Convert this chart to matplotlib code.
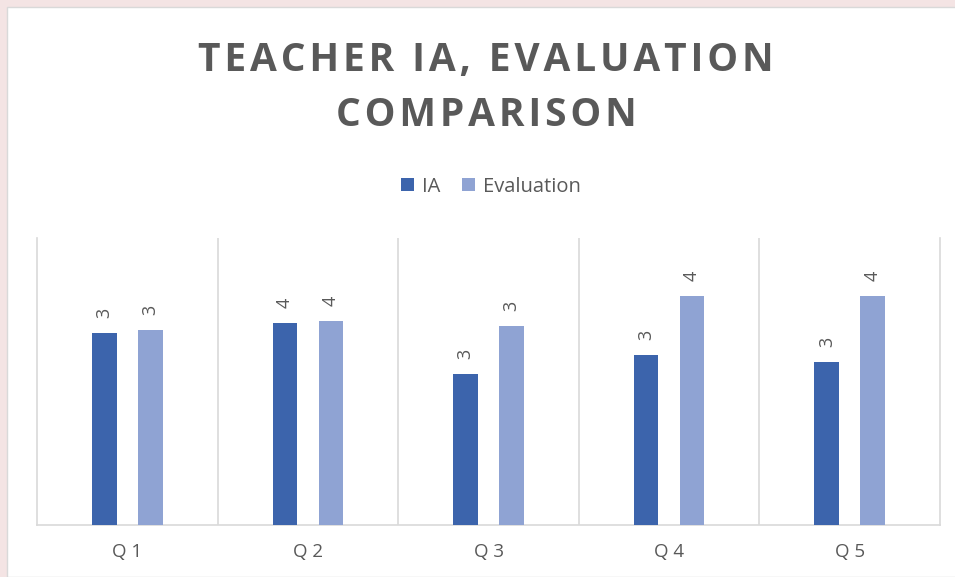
import matplotlib.pyplot as plt
import numpy as np
from matplotlib.patches import Rectangle

# data (labels shown rounded)
questions = ["Q 1", "Q 2", "Q 3", "Q 4", "Q 5"]
ia = [3.34, 3.52, 2.63, 2.96, 2.84]
evaluation = [3.40, 3.55, 3.47, 3.99, 3.99]
title_lines = ["TEACHER IA, EVALUATION", "COMPARISON"]

col_ia = "#3c64ac"
col_ev = "#8fa3d3"
grey = "#595959"
grid = "#d9d9d9"

fig = plt.figure(figsize=(9.55, 5.77), dpi=100)
fig.patch.set_facecolor("#f4e4e4")
# white slide/chart card
fig.patches.append(Rectangle((7 / 955, 0), 1, 1 - 7 / 577, transform=fig.transFigure,
                             facecolor="white", edgecolor=grid, lw=1, zorder=-5))

ax = fig.add_axes([37 / 955, 1 - 525 / 577, (940 - 37) / 955, (525 - 238) / 577])
ax.set_zorder(2)
ax.set_facecolor("none")

x = np.arange(len(questions))
w = 0.136
off = 0.127
b1 = ax.bar(x - off, ia, w, color=col_ia, label="IA", zorder=3)
b2 = ax.bar(x + off, evaluation, w, color=col_ev, label="Evaluation", zorder=3)

for bars in (b1, b2):
    for r in bars:
        ax.annotate("%.0f" % r.get_height(), (r.get_x() + r.get_width() / 2, r.get_height()),
                    xytext=(0, 11), textcoords="offset points", ha="center", va="bottom",
                    rotation=90, fontsize=13, color=grey, family="Open Sans")

ax.set_xlim(-0.5, len(questions) - 0.5)
ax.set_ylim(0, 5)
ax.set_yticks([])
ax.set_xticks(x)
ax.set_xticklabels(questions, fontsize=13.5, color=grey, family="Open Sans")
ax.tick_params(axis="x", length=0, pad=13)
for xb in np.arange(0.5, len(questions) - 0.5):
    ax.axvline(xb, color=grid, lw=1.2, zorder=1)
for s in ["left", "right", "bottom"]:
    ax.spines[s].set_color(grid)
    ax.spines[s].set_linewidth(1.2)
ax.spines["top"].set_visible(False)

# letter-spaced title (hair spaces between characters)
spaced = "\n".join("\u200a".join(line) for line in title_lines)
fig.text(0.509, 1 - 88 / 577, spaced, ha="center", va="center",
         fontsize=28, fontweight="bold", color=grey, family=["Open Sans", "DejaVu Sans"],
         linespacing=1.55)

leg = fig.legend(loc="center", bbox_to_anchor=(0.514, 1 - 187 / 577), ncol=2, frameon=False,
                 handlelength=0.62, handleheight=0.62, handletextpad=0.4, columnspacing=1.1,
                 prop={"family": "Open Sans", "size": 14.5})
for t in leg.get_texts():
    t.set_color(grey)

fig.savefig("out.png", dpi=100)
